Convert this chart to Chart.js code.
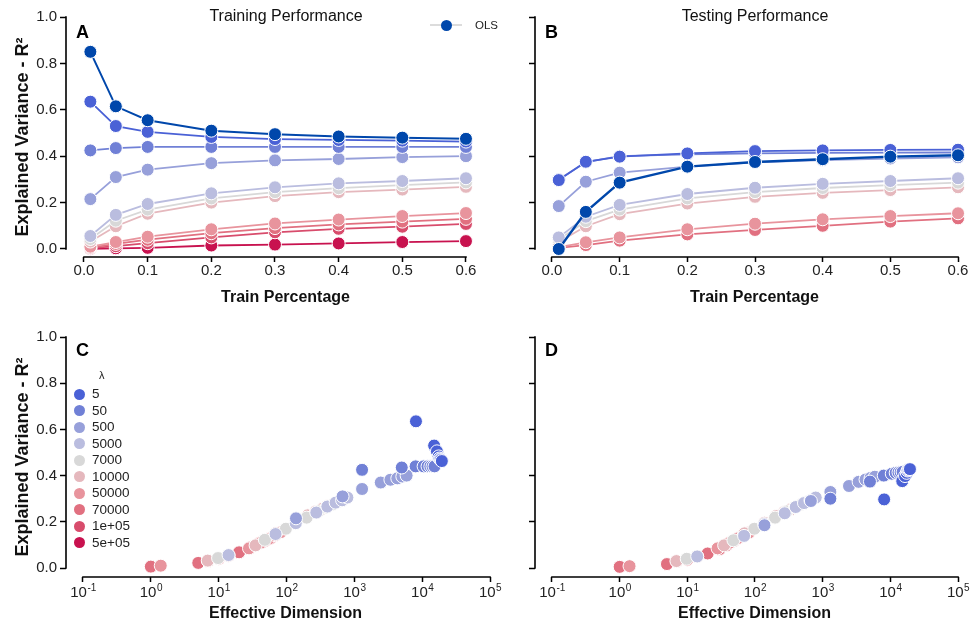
<!DOCTYPE html>
<html><head><meta charset="utf-8">
<script src="https://cdn.jsdelivr.net/npm/chart.js@4.4.1/dist/chart.umd.min.js"></script>
<style>
html,body{margin:0;padding:0;background:#fff;}
body{width:971px;height:626px;position:relative;overflow:hidden;font-family:"Liberation Sans",Arial,Helvetica,sans-serif;color:#111;}
canvas{position:absolute;}
.letter{position:absolute;font-weight:bold;font-size:18px;line-height:18px;color:#000;}
.ptitle{position:absolute;font-size:16px;line-height:16px;width:240px;text-align:center;color:#111;white-space:nowrap;}
.abs{position:absolute;white-space:nowrap;}
</style></head><body>
<canvas id="cA" width="520" height="310" style="left:0;top:0"></canvas>
<canvas id="cB" width="500" height="310" style="left:490px;top:0"></canvas>
<canvas id="cC" width="520" height="313" style="left:0;top:313px"></canvas>
<canvas id="cD" width="500" height="313" style="left:490px;top:313px"></canvas>
<div class="ptitle" style="left:166px;top:8px">Training Performance</div>
<div class="ptitle" style="left:635px;top:8px">Testing Performance</div>
<div class="letter" style="left:76px;top:23px">A</div>
<div class="letter" style="left:545px;top:23px">B</div>
<div class="letter" style="left:76px;top:341px">C</div>
<div class="letter" style="left:545px;top:341px">D</div>
<div id="olsLegend"></div>
<div id="lamLegend"></div>
<script>
// ---------------- data ----------------
const trainPct = [0.01, 0.05, 0.1, 0.2, 0.3, 0.4, 0.5, 0.6];
const xTicksPct = [0, 0.1, 0.2, 0.3, 0.4, 0.5, 0.6];
const yTicksR2 = [0, 0.2, 0.4, 0.6, 0.8, 1.0];
const logTickExps = [-1, 0, 1, 2, 3, 4, 5];

const olsLabel = 'OLS';
const olsColor = '#0047ab';
const lambdaLabels = ['5', '50', '500', '5000', '7000', '10000', '50000', '70000', '1e+05', '5e+05'];
const lambdaColors = ['#4a61d6', '#7080d6', '#97a0da', '#babddf', '#d8d8d8', '#e5b8bd', '#e8949d', '#e17080', '#d84c6c', '#c8124f'];

// training R2 (panel A)
const trainOLS     = [0.85, 0.615, 0.555, 0.51, 0.495, 0.485, 0.48, 0.475];
const train_l5     = [0.635, 0.53, 0.505, 0.483, 0.474, 0.47, 0.467, 0.463];
const train_l50    = [0.425, 0.435, 0.44, 0.44, 0.44, 0.44, 0.44, 0.44];
const train_l500   = [0.215, 0.31, 0.342, 0.37, 0.382, 0.388, 0.396, 0.40];
const train_l5000  = [0.056, 0.147, 0.194, 0.24, 0.266, 0.283, 0.293, 0.305];
const train_l7000  = [0.043, 0.122, 0.17, 0.218, 0.245, 0.262, 0.275, 0.287];
const train_l10000 = [0.032, 0.098, 0.152, 0.2, 0.228, 0.245, 0.256, 0.268];
const train_l50000 = [0.01, 0.03, 0.053, 0.085, 0.11, 0.127, 0.142, 0.155];
const train_l70000 = [0.006, 0.022, 0.04, 0.068, 0.09, 0.106, 0.118, 0.13];
const train_l1e5   = [0.004, 0.012, 0.025, 0.05, 0.072, 0.087, 0.096, 0.108];
const train_l5e5   = [0.001, 0.003, 0.005, 0.015, 0.019, 0.024, 0.03, 0.034];

// testing R2 (panel B)
const testOLS      = [0.0, 0.16, 0.286, 0.355, 0.375, 0.387, 0.398, 0.404];
const test_l5      = [0.297, 0.376, 0.398, 0.412, 0.422, 0.425, 0.427, 0.428];
const test_l50     = [0.30, 0.374, 0.40, 0.408, 0.412, 0.414, 0.415, 0.416];
const test_l500    = [0.185, 0.29, 0.329, 0.355, 0.373, 0.383, 0.39, 0.395];
const test_l5000   = [0.05, 0.139, 0.19, 0.237, 0.264, 0.281, 0.293, 0.305];
const test_l7000   = [0.04, 0.12, 0.17, 0.218, 0.245, 0.263, 0.275, 0.286];
const test_l10000  = [0.03, 0.098, 0.15, 0.196, 0.225, 0.242, 0.254, 0.266];
const test_l50000  = [0.008, 0.029, 0.05, 0.085, 0.109, 0.128, 0.142, 0.154];
const test_l70000  = [0.005, 0.017, 0.036, 0.063, 0.082, 0.10, 0.118, 0.132];

// effective dimension (panels C, D)
const effdim_l5     = [8100, 15000, 16500, 17500, 18000, 18500, 19000, 19500];
const effdim_l50    = [1300, 5000, 8000, 10500, 12000, 13200, 14200, 15200];
const effdim_l500   = [138, 670, 1300, 2450, 3400, 4300, 5100, 5900];
const effdim_l5000  = [14, 69, 137, 275, 400, 530, 660, 790];
const effdim_l7000  = [9.8, 48, 98, 198, 295, 390, 480, 570];
const effdim_l10000 = [6.9, 35, 70, 138, 205, 272, 338, 402];
const effdim_l50000 = [1.4, 7, 14, 28, 42, 55, 68, 82];
const effdim_l70000 = [1.0, 5, 10, 20, 30, 39, 49, 59];

const trainByLambda = [train_l5, train_l50, train_l500, train_l5000, train_l7000, train_l10000, train_l50000, train_l70000, train_l1e5, train_l5e5];
const testByLambda = [test_l5, test_l50, test_l500, test_l5000, test_l7000, test_l10000, test_l50000, test_l70000];
const effdimByLambda = [effdim_l5, effdim_l50, effdim_l500, effdim_l5000, effdim_l7000, effdim_l10000, effdim_l50000, effdim_l70000];

// ---------------- chart helpers ----------------
const FONT = '"Liberation Sans", Arial, Helvetica, sans-serif';
Chart.defaults.font.family = FONT;
Chart.defaults.color = '#222';

const axisLines = {
  id: 'axisLines',
  beforeDatasetsDraw(chart, args, o) {
    const ctx = chart.ctx, xs = chart.scales.x, ys = chart.scales.y, ca = chart.chartArea;
    ctx.save();
    ctx.strokeStyle = '#000'; ctx.lineWidth = 1.6;
    ctx.beginPath();
    ctx.moveTo(ca.left, ys.getPixelForValue(o.y0) + 0.8);
    ctx.lineTo(ca.left, ys.getPixelForValue(o.y1) - 0.8);
    ctx.moveTo(xs.getPixelForValue(o.x0) - 0.8, ca.bottom);
    ctx.lineTo(xs.getPixelForValue(o.x1) + 0.8, ca.bottom);
    ctx.stroke();
    ctx.restore();
  }
};

const logLabels = {
  id: 'logLabels',
  afterDraw(chart, args, o) {
    if (!o || !o.exps) return;
    const ctx = chart.ctx, xs = chart.scales.x, ca = chart.chartArea;
    ctx.save();
    ctx.fillStyle = '#222';
    ctx.textBaseline = 'alphabetic';
    ctx.textAlign = 'left';
    const y = ca.bottom + 20;
    o.exps.forEach(e => {
      const px = xs.getPixelForValue(Math.pow(10, e));
      ctx.font = '15px ' + FONT;
      const wb = ctx.measureText('10').width;
      ctx.font = '10px ' + FONT;
      const sup = String(e);
      const ws = ctx.measureText(sup).width;
      const left = px - (wb + ws) / 2;
      ctx.font = '15px ' + FONT;
      ctx.fillText('10', left, y);
      ctx.font = '10px ' + FONT;
      ctx.fillText(sup, left + wb + 0.5, y - 6);
    });
    ctx.restore();
  }
};

const gridOpts = (len) => ({ display: true, drawOnChartArea: false, drawTicks: true, tickLength: len, tickWidth: 1.5, tickColor: '#000', color: '#000' });

function yScale(min, width, withLabels) {
  return {
    type: 'linear', bounds: 'data', min: min, max: 1.0,
    afterBuildTicks: s => { s.ticks = yTicksR2.map(v => ({ value: v })); },
    afterFit: s => { s.width = width; },
    ticks: { callback: v => withLabels ? Number(v).toFixed(1) : '', font: { size: 15 }, color: '#222', padding: 3 },
    grid: gridOpts(6),
    border: { display: false },
    title: withLabels ? { display: true, text: 'Explained Variance - R²', font: { size: 18, weight: 'bold' }, color: '#111', padding: { top: 12, bottom: 0 } } : { display: false }
  };
}

function xLinScale(min, max, height) {
  return {
    type: 'linear', bounds: 'data', min: min, max: max,
    afterBuildTicks: s => { s.ticks = xTicksPct.map(v => ({ value: v })); },
    afterFit: s => { s.height = height; },
    ticks: { callback: v => Number(v).toFixed(1), font: { size: 15 }, color: '#222', padding: 0, maxRotation: 0, autoSkip: false },
    grid: gridOpts(5),
    border: { display: false },
    title: { display: true, text: 'Train Percentage', font: { size: 16, weight: 'bold' }, color: '#111', padding: { top: 0, bottom: 3 } }
  };
}

function xLogScale(min, max, height) {
  return {
    type: 'logarithmic', bounds: 'data', min: min, max: max,
    afterBuildTicks: s => { s.ticks = logTickExps.map(e => ({ value: Math.pow(10, e) })); },
    afterFit: s => { s.height = height; },
    ticks: { callback: () => '', autoSkip: false, maxRotation: 0 },
    grid: gridOpts(5),
    border: { display: false },
    title: { display: true, text: 'Effective Dimension', font: { size: 16, weight: 'bold' }, color: '#111', padding: { top: 0, bottom: 3 } }
  };
}

function lineDs(label, color, xs, ys, lw) {
  return {
    label: label,
    data: xs.map((x, i) => ({ x: x, y: ys[i] })),
    borderColor: color, backgroundColor: color,
    pointBackgroundColor: color, pointBorderColor: '#fff', pointBorderWidth: 1,
    pointRadius: 6.5, pointHoverRadius: 6.5, borderWidth: lw || 1.8, tension: 0, clip: false
  };
}

function scatterDs(label, color, xs, ys) {
  return {
    label: label,
    data: xs.map((x, i) => ({ x: x, y: ys[i] })),
    backgroundColor: color, borderColor: '#fff', borderWidth: 1,
    pointRadius: 6.5, pointHoverRadius: 6.5, showLine: false, clip: false
  };
}

function baseOptions(padding, scales, plug) {
  return {
    responsive: false, animation: false, events: [],
    layout: { padding: padding },
    plugins: Object.assign({ legend: { display: false }, tooltip: { enabled: false }, title: { display: false } }, plug),
    scales: scales
  };
}

// ---------------- Panel A ----------------
const dsA = [lineDs(olsLabel, olsColor, trainPct, trainOLS, 2)]
  .concat(lambdaLabels.map((l, i) => lineDs('λ = ' + l, lambdaColors[i], trainPct, trainByLambda[i])));
new Chart(document.getElementById('cA'), {
  type: 'line',
  data: { datasets: dsA },
  options: baseOptions({ top: 17, right: 15, bottom: 0, left: 0 },
    { x: xLinScale(-0.02827, 0.6613, 53), y: yScale(-0.0345, 66, true) },
    { axisLines: { x0: 0, x1: 0.6, y0: 0, y1: 1 } }),
  plugins: [axisLines]
});

// ---------------- Panel B ----------------
const dsB = [lineDs(olsLabel, olsColor, trainPct, testOLS, 2.4)]
  .concat(testByLambda.map((arr, i) => lineDs('λ = ' + lambdaLabels[i], lambdaColors[i], trainPct, arr)));
new Chart(document.getElementById('cB'), {
  type: 'line',
  data: { datasets: dsB },
  options: baseOptions({ top: 17, right: 16, bottom: 0, left: 0 },
    { x: xLinScale(-0.02512, 0.6236, 53), y: yScale(-0.0345, 45, false) },
    { axisLines: { x0: 0, x1: 0.6, y0: 0, y1: 1 } }),
  plugins: [axisLines]
});

// ---------------- Panel C ----------------
const dsC = effdimByLambda.map((ed, i) => scatterDs('λ = ' + lambdaLabels[i], lambdaColors[i], ed, trainByLambda[i]));
new Chart(document.getElementById('cC'), {
  type: 'scatter',
  data: { datasets: dsC },
  options: baseOptions({ top: 24, right: 15, bottom: 0, left: 0 },
    { x: xLogScale(0.05616, Math.pow(10, 5.221), 49), y: yScale(-0.03896, 66, true) },
    { axisLines: { x0: 0.1, x1: 1e5, y0: 0, y1: 1 }, logLabels: { exps: logTickExps } }),
  plugins: [axisLines, logLabels]
});

// ---------------- Panel D ----------------
const dsD = effdimByLambda.map((ed, i) => scatterDs('λ = ' + lambdaLabels[i], lambdaColors[i], ed, testByLambda[i]));
new Chart(document.getElementById('cD'), {
  type: 'scatter',
  data: { datasets: dsD },
  options: baseOptions({ top: 24, right: 16, bottom: 0, left: 0 },
    { x: xLogScale(0.05610, Math.pow(10, 5.2364), 49), y: yScale(-0.03896, 45, false) },
    { axisLines: { x0: 0.1, x1: 1e5, y0: 0, y1: 1 }, logLabels: { exps: logTickExps } }),
  plugins: [axisLines, logLabels]
});

// ---------------- legends ----------------
document.getElementById('olsLegend').innerHTML =
  '<div class="abs" style="left:430px;top:24px;width:32px;height:1.5px;background:#dcdcdc"></div>' +
  '<div class="abs" style="left:441px;top:19.5px;width:11px;height:11px;border-radius:50%;background:' + olsColor + '"></div>' +
  '<div class="abs" style="left:475px;top:18.5px;font-size:11.5px;line-height:13px;color:#222">' + olsLabel + '</div>';

let lh = '<div class="abs" style="left:99px;top:369px;font-size:11px;line-height:12px;color:#222">λ</div>';
lambdaLabels.forEach((l, i) => {
  const cy = 394 + i * 16.5;
  lh += '<div class="abs" style="left:74px;top:' + (cy - 5.5) + 'px;width:11px;height:11px;border-radius:50%;background:' + lambdaColors[i] + '"></div>';
  lh += '<div class="abs" style="left:92px;top:' + (cy - 8) + 'px;font-size:13.5px;line-height:16px;color:#222">' + l + '</div>';
});
document.getElementById('lamLegend').innerHTML = lh;
</script>
</body></html>
